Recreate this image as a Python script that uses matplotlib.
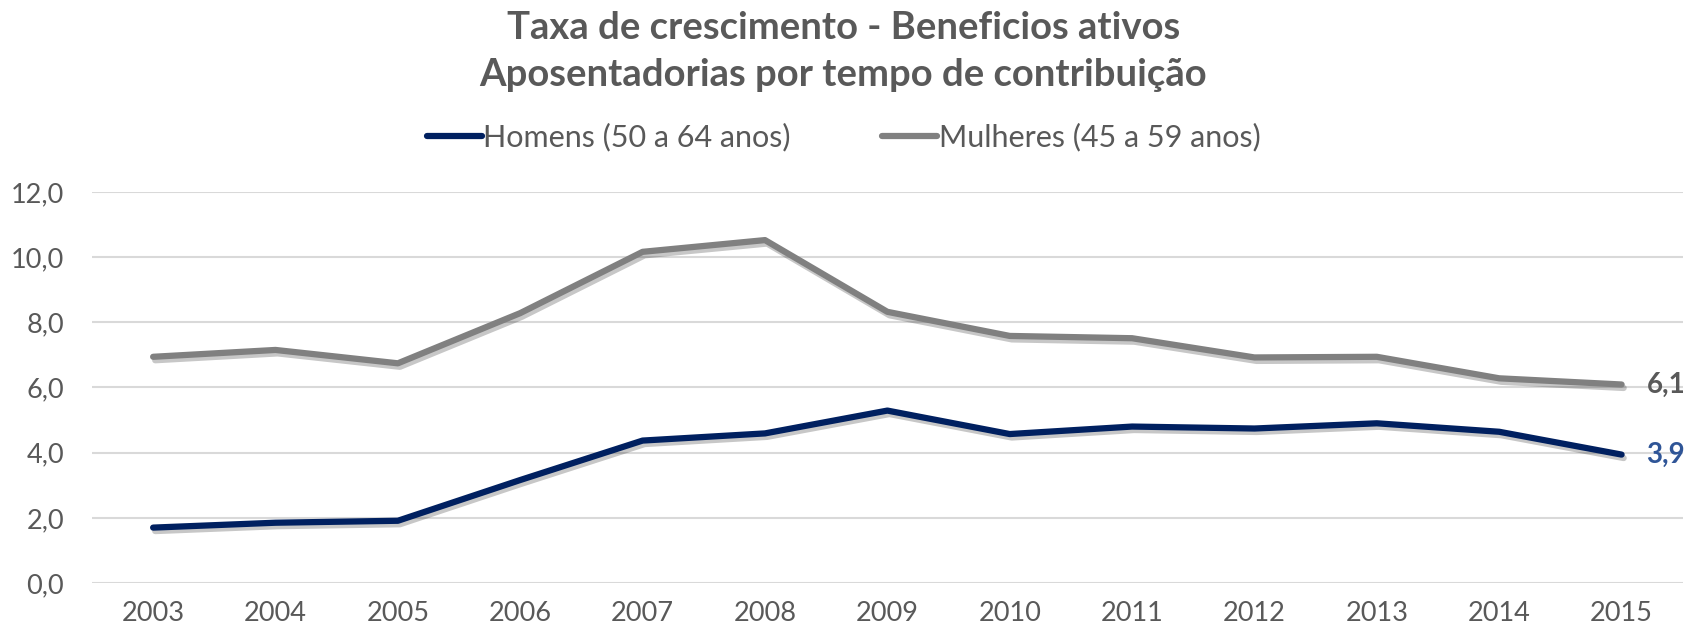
import matplotlib
matplotlib.use("Agg")
import matplotlib.pyplot as plt
import matplotlib.patheffects as pe

plt.rcParams["font.family"] = ["Lato", "DejaVu Sans"]

# data
years = ["2003", "2004", "2005", "2006", "2007", "2008", "2009",
         "2010", "2011", "2012", "2013", "2014", "2015"]
homens = [1.70, 1.85, 1.91, 3.16, 4.37, 4.59, 5.29, 4.57, 4.80, 4.74, 4.90, 4.64, 3.94]
mulheres = [6.94, 7.15, 6.74, 8.28, 10.16, 10.52, 8.32, 7.58, 7.51, 6.92, 6.94, 6.28, 6.09]
yticks = [0, 2, 4, 6, 8, 10, 12]

navy = "#002060"
grey = "#808080"
text_col = "#595959"

fig = plt.figure(figsize=(16.87, 6.34), dpi=100)
ax = fig.add_axes([0.0545, 0.0804, 0.943, 0.617])

shadow = [pe.SimpleLineShadow(offset=(1.5, -2.5), shadow_color="black", alpha=0.22), pe.Normal()]
x = list(range(len(years)))
ax.plot(x, homens, color=navy, lw=4.5, solid_capstyle="round", solid_joinstyle="round",
        path_effects=shadow, label="Homens (50 a 64 anos)", zorder=3)
ax.plot(x, mulheres, color=grey, lw=4.5, solid_capstyle="round", solid_joinstyle="round",
        path_effects=shadow, label="Mulheres (45 a 59 anos)", zorder=3)

# end labels
ax.annotate(f"{mulheres[-1]:.1f}".replace(".", ","), (x[-1], mulheres[-1]),
            xytext=(18, 0), textcoords="offset points", va="center", ha="left",
            fontsize=20, fontweight="bold", color=text_col)
ax.annotate(f"{homens[-1]:.1f}".replace(".", ","), (x[-1], homens[-1]),
            xytext=(18, 0), textcoords="offset points", va="center", ha="left",
            fontsize=20, fontweight="bold", color="#2F5597")

ax.set_xlim(-0.5, len(years) - 0.5)
ax.set_ylim(0, 12)
ax.set_xticks(x)
ax.set_xticklabels(years)
ax.set_yticks(yticks)
ax.set_yticklabels([f"{v:.1f}".replace(".", ",") for v in yticks])
ax.tick_params(axis="both", length=0, labelsize=19.5, colors=text_col)
ax.tick_params(axis="y", pad=20)
ax.tick_params(axis="x", pad=13)
ax.yaxis.grid(True, color="#d9d9d9", lw=1.5)
ax.set_axisbelow(True)
for s in ax.spines.values():
    s.set_visible(False)

fig.text(0.5, 0.983, "Taxa de crescimento - Beneficios ativos\nAposentadorias por tempo de contribuição",
         ha="center", va="top", fontsize=27.5, fontweight="bold", color=text_col, linespacing=1.48)

leg = fig.legend(loc="center", bbox_to_anchor=(0.5, 0.784), ncol=2, frameon=False,
                 fontsize=22, handlelength=1.8, handletextpad=0.05, columnspacing=3.0)
for t in leg.get_texts():
    t.set_color(text_col)
for h in leg.legend_handles:
    h.set_path_effects([])

fig.savefig("out.png", dpi=100)
